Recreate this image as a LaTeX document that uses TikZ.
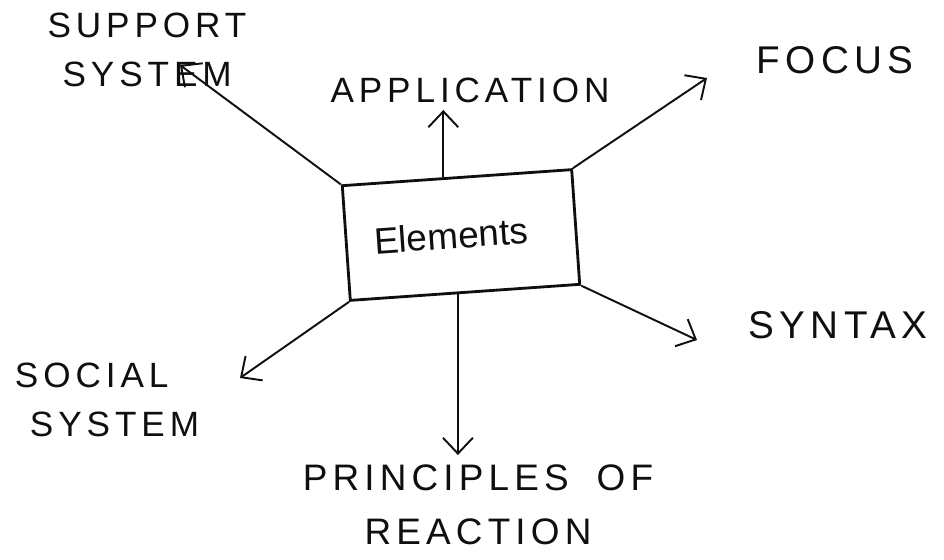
\documentclass[tikz,border=0pt]{standalone}
\usepackage{fontspec}
\usepackage{tikz}
\usetikzlibrary{arrows.meta, positioning}
\setmainfont{Liberation Sans}
\newfontfamily\caps{Liberation Sans}[LetterSpace=14]
\definecolor{inkblack}{RGB}{15, 15, 15}

\begin{document}
\begin{tikzpicture}[x=0.02cm, y=-0.02cm,
        every node/.style={text=inkblack},
        elembox/.style={draw=inkblack, line width=1.6pt, fill=white,
                        minimum width=4.6cm, minimum height=2.3cm,
                        font=\fontsize{21}{24}\selectfont, inner sep=0pt},
        lbl/.style={font=\caps\fontsize{20}{28}\selectfont, align=left, inner sep=0pt},
        biglbl/.style={lbl, font=\caps\fontsize{22}{28}\selectfont},
        arr/.style={-{Straight Barb[length=9pt, width=17pt]}, line width=1.1pt, inkblack}
      ]
        \useasboundingbox (0,0) rectangle (944,559);

        \node[elembox, rotate=4] (elements) at (461,235) {\hspace*{-0.4cm}Elements};

        % labels round the box
        \node[lbl] (support)    at (147,50)  {SUPPORT\\\hspace{0.3cm}SYSTEM};
        \node[lbl] (application) at (470,90) {APPLICATION};
        \node[biglbl] (focus)   at (835,60)  {FOCUS};
        \node[biglbl] (syntax)  at (838,325) {SYNTAX};
        \node[lbl] (social)     at (107,400) {SOCIAL\\\hspace{0.3cm}SYSTEM};
        \node[lbl, align=center, font=\caps\fontsize{21}{31}\selectfont]
          (principles) at (478,505) {PRINCIPLES\hspace{0.25cm} OF\\REACTION};

        % arrow tips
        \coordinate (suptip) at (180,65);
        \coordinate (apptip) at (443,110);
        \coordinate (foctip) at (707,78);
        \coordinate (syntip) at (697,340);
        \coordinate (soctip) at (240,378);
        \coordinate (pritip) at (458,455);

        \draw[arr] (elements.north west) -- (suptip);
        \draw[arr] (elements.103) -- (elements.103 |- apptip);
        \draw[arr] (elements.north east) -- (foctip);
        \draw[arr] (elements.south east) -- (syntip);
        \draw[arr] (elements.south west) -- (soctip);
        \draw[arr] (elements.263) -- (elements.263 |- pritip);
      \end{tikzpicture}
\end{document}
